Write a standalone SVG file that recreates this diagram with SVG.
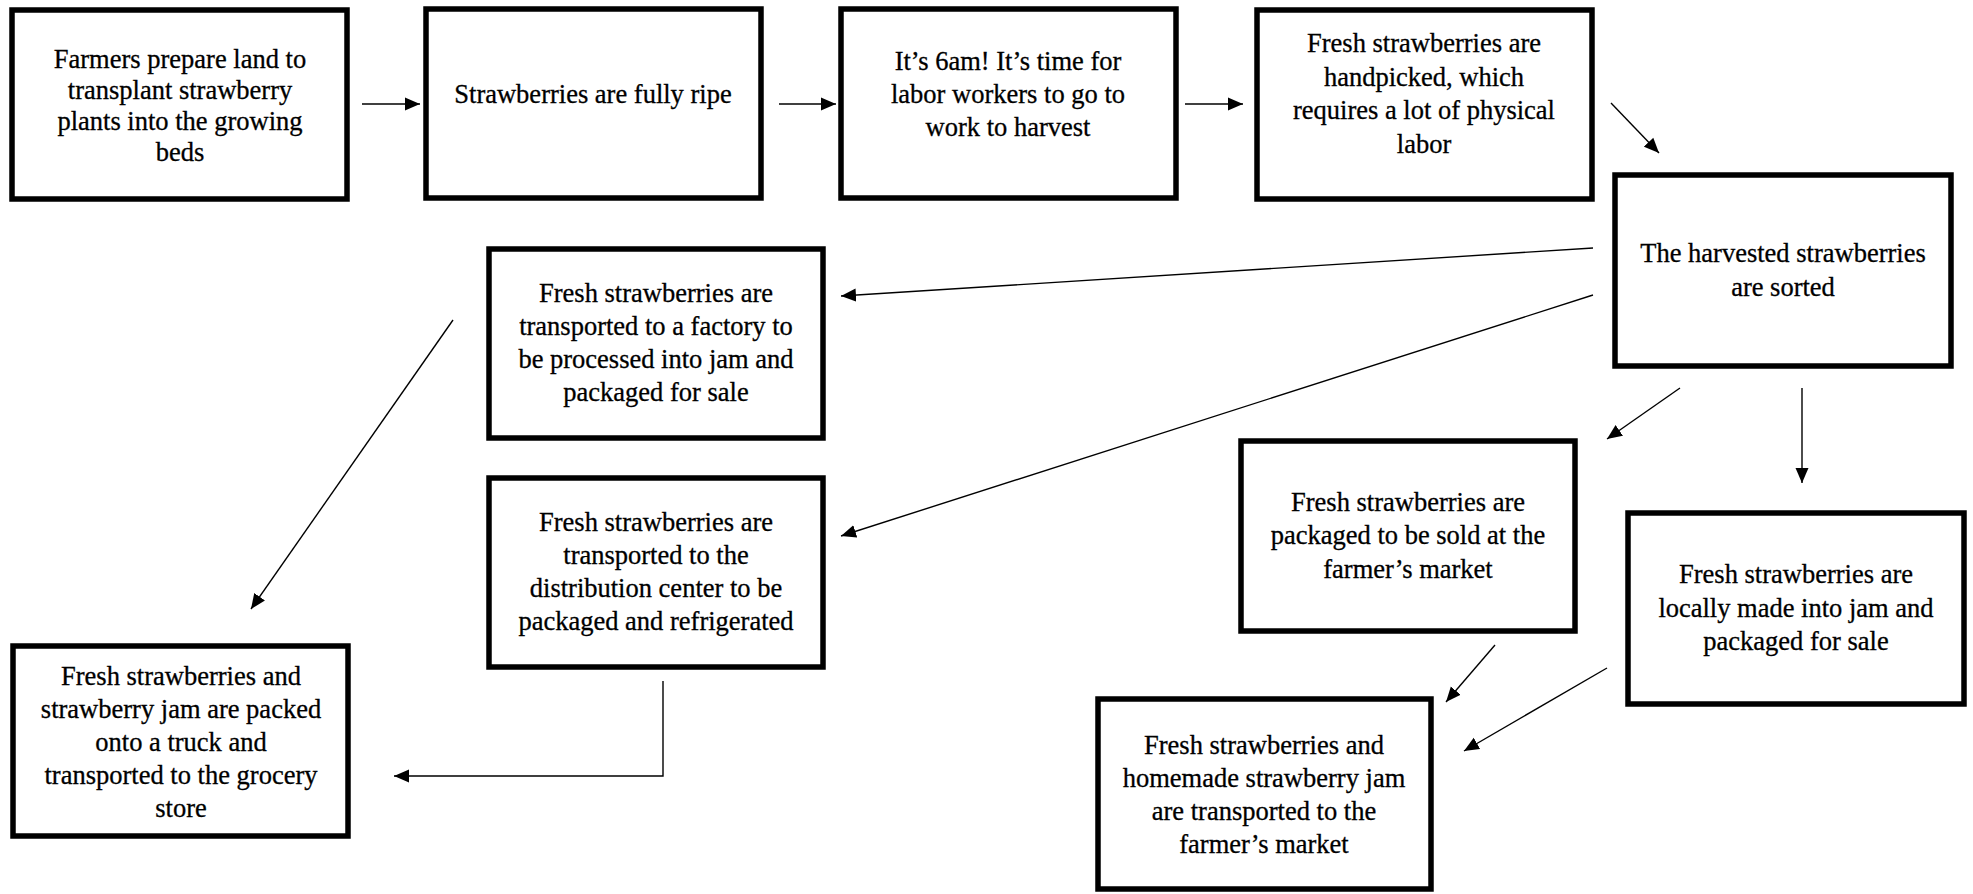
<svg xmlns="http://www.w3.org/2000/svg" width="1973" height="894" viewBox="0 0 1973 894">
<style>
.box{fill:#fff;stroke:#000;stroke-width:5.5}
.t{font-family:'Liberation Serif','Times New Roman',serif;font-size:26.5px;fill:#000;stroke:#000;stroke-width:0.3;text-anchor:middle}
.c{fill:none;stroke:#000;stroke-width:1.4}
</style>
<defs>
<marker id="ah" markerUnits="userSpaceOnUse" markerWidth="16" markerHeight="14" refX="15" refY="7" orient="auto">
<path d="M0,0.5 L15,7 L0,13.5 z" fill="#000"/>
</marker>
</defs>
<rect width="1973" height="894" fill="#fff"/>
<g id="n1"><rect class="box" x="12" y="10" width="335" height="189"/>
<text class="t" x="180" y="68">Farmers prepare land to</text><text class="t" x="180" y="99">transplant strawberry</text><text class="t" x="180" y="130">plants into the growing</text><text class="t" x="180" y="161">beds</text></g>
<g id="n2"><rect class="box" x="426" y="9" width="335" height="189"/>
<text class="t" x="593" y="103">Strawberries are fully ripe</text></g>
<g id="n3"><rect class="box" x="841" y="9" width="335" height="189"/>
<text class="t" x="1008" y="70">It’s 6am! It’s time for</text><text class="t" x="1008" y="103">labor workers to go to</text><text class="t" x="1008" y="136">work to harvest</text></g>
<g id="n4"><rect class="box" x="1257" y="10" width="335" height="189"/>
<text class="t" x="1424" y="52">Fresh strawberries are</text><text class="t" x="1424" y="85.5">handpicked, which</text><text class="t" x="1424" y="119">requires a lot of physical</text><text class="t" x="1424" y="152.5">labor</text></g>
<g id="n5"><rect class="box" x="1615" y="175" width="336" height="191"/>
<text class="t" x="1783" y="262">The harvested strawberries</text><text class="t" x="1783" y="295.5">are sorted</text></g>
<g id="n6"><rect class="box" x="489" y="249" width="334" height="189"/>
<text class="t" x="656" y="302">Fresh strawberries are</text><text class="t" x="656" y="335">transported to a factory to</text><text class="t" x="656" y="368">be processed into jam and</text><text class="t" x="656" y="401">packaged for sale</text></g>
<g id="n7"><rect class="box" x="489" y="478" width="334" height="189"/>
<text class="t" x="656" y="531">Fresh strawberries are</text><text class="t" x="656" y="564">transported to the</text><text class="t" x="656" y="597">distribution center to be</text><text class="t" x="656" y="630">packaged and refrigerated</text></g>
<g id="n8"><rect class="box" x="13" y="646" width="335" height="190"/>
<text class="t" x="181" y="685">Fresh strawberries and</text><text class="t" x="181" y="718">strawberry jam are packed</text><text class="t" x="181" y="751">onto a truck and</text><text class="t" x="181" y="784">transported to the grocery</text><text class="t" x="181" y="817">store</text></g>
<g id="n9"><rect class="box" x="1241" y="441" width="334" height="190"/>
<text class="t" x="1408" y="510.5">Fresh strawberries are</text><text class="t" x="1408" y="544">packaged to be sold at the</text><text class="t" x="1408" y="577.5">farmer’s market</text></g>
<g id="n10"><rect class="box" x="1628" y="513" width="336" height="191"/>
<text class="t" x="1796" y="583">Fresh strawberries are</text><text class="t" x="1796" y="616.5">locally made into jam and</text><text class="t" x="1796" y="650">packaged for sale</text></g>
<g id="n11"><rect class="box" x="1098" y="699" width="333" height="190"/>
<text class="t" x="1264" y="754">Fresh strawberries and</text><text class="t" x="1264" y="787">homemade strawberry jam</text><text class="t" x="1264" y="820">are transported to the</text><text class="t" x="1264" y="853">farmer’s market</text></g>
<g id="connectors">
<line class="c" x1="362" y1="104" x2="420" y2="104" marker-end="url(#ah)"/>
<line class="c" x1="779" y1="104" x2="836" y2="104" marker-end="url(#ah)"/>
<line class="c" x1="1185" y1="104" x2="1243" y2="104" marker-end="url(#ah)"/>
<line class="c" x1="1611" y1="103" x2="1659" y2="153" marker-end="url(#ah)"/>
<line class="c" x1="1593" y1="248" x2="841" y2="296" marker-end="url(#ah)"/>
<line class="c" x1="1593" y1="295" x2="841" y2="536" marker-end="url(#ah)"/>
<line class="c" x1="1680" y1="388" x2="1607" y2="439" marker-end="url(#ah)"/>
<line class="c" x1="1802" y1="388" x2="1802" y2="483" marker-end="url(#ah)"/>
<line class="c" x1="453" y1="320" x2="251" y2="609" marker-end="url(#ah)"/>
<polyline class="c" points="663,681 663,776 394,776" marker-end="url(#ah)"/>
<line class="c" x1="1495" y1="645" x2="1446" y2="702" marker-end="url(#ah)"/>
<line class="c" x1="1607" y1="668" x2="1464" y2="751" marker-end="url(#ah)"/>
</g>
</svg>
